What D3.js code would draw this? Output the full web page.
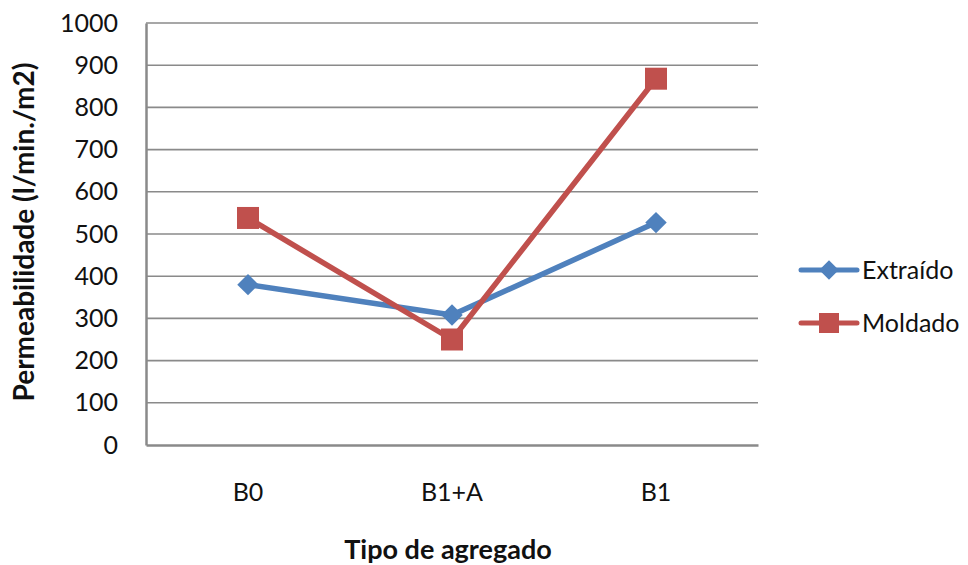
<!DOCTYPE html>
<html><head><meta charset="utf-8">
<script src="https://cdn.jsdelivr.net/npm/d3@7"></script>
<style>body{margin:0;background:#fff}svg{display:block}</style>
</head><body>
<script>
const categories = ["B0", "B1+A", "B1"];
const extraido = [380, 308, 527];
const moldado = [538, 250, 868];
const yTicks = [0,100,200,300,400,500,600,700,800,900,1000];
const seriesNames = ["Extraído", "Moldado"];

const W = 968, H = 565;
const m = {left:146, right:210, top:23, bottom:120};
const font = "Lato, 'Open Sans', sans-serif";
const svg = d3.select("body").append("svg").attr("width", W).attr("height", H);

const x = d3.scaleBand().domain(categories).range([m.left, W - m.right]);
const y = d3.scaleLinear().domain([0, 1000]).range([H - m.bottom, m.top]);

svg.append("g").selectAll("line").data(yTicks.filter(d => d > 0)).join("line")
  .attr("x1", m.left).attr("x2", W - m.right)
  .attr("y1", d => y(d)).attr("y2", d => y(d))
  .attr("stroke", "#8a8a8a").attr("stroke-width", 1.6);

const ya = svg.append("g").attr("transform", `translate(${m.left},0)`)
  .call(d3.axisLeft(y).tickValues(yTicks).tickFormat(d3.format("d")).tickSize(0).tickPadding(28));
ya.select(".domain").attr("stroke", "#8a8a8a").attr("stroke-width", 2.5);
ya.selectAll("text").attr("font-family", font).attr("font-size", 25).attr("fill", "#111");

const xa = svg.append("g").attr("transform", `translate(0,${H - m.bottom})`)
  .call(d3.axisBottom(x).tickSize(0).tickPadding(38));
xa.select(".domain").attr("stroke", "#8a8a8a").attr("stroke-width", 2.5);
xa.selectAll("text").attr("font-family", font).attr("font-size", 25).attr("fill", "#111");

svg.append("text").attr("transform", `translate(24,232) rotate(-90)`)
  .attr("text-anchor", "middle").attr("dy", "0.35em").attr("font-family", font).attr("font-weight", "bold")
  .attr("font-size", 28).attr("fill", "#111").text("Permeabilidade (l/min./m2)");
svg.append("text").attr("x", (m.left + W - m.right)/2 - 4).attr("y", 550).attr("dy", "0.35em")
  .attr("text-anchor", "middle").attr("font-family", font).attr("font-weight", "bold")
  .attr("font-size", 27).attr("fill", "#111").text("Tipo de agregado");

const colors = ["#4F81BD", "#C0504D"];
const data = [extraido, moldado];
const line = d3.line().x((d, i) => x(categories[i]) + x.bandwidth()/2).y(d => y(d));
const markerPath = (s, big) => s === 0
  ? d3.symbol(d3.symbolSquare, big ? 230 : 190)()
  : d3.symbol(d3.symbolSquare, big ? 484 : 400)();
const rot = s => s === 0 ? " rotate(45)" : "";

data.forEach((vals, s) => {
  const g = svg.append("g");
  g.append("path").datum(vals).attr("d", line).attr("fill", "none")
    .attr("stroke", colors[s]).attr("stroke-width", 5.5).attr("stroke-linejoin", "round");
  g.selectAll("path.m").data(vals).join("path").attr("class", "m")
    .attr("transform", (d, i) => `translate(${x(categories[i]) + x.bandwidth()/2},${y(d)})${rot(s)}`)
    .attr("d", markerPath(s, true)).attr("fill", colors[s]);
});

const lg = svg.append("g");
seriesNames.forEach((n, s) => {
  const ly = 270 + s * 53;
  lg.append("line").attr("x1", 801).attr("x2", 857).attr("y1", ly).attr("y2", ly)
    .attr("stroke", colors[s]).attr("stroke-width", 5).attr("stroke-linecap", "round");
  lg.append("path").attr("transform", `translate(829,${ly})${rot(s)}`)
    .attr("d", markerPath(s, false)).attr("fill", colors[s]);
  lg.append("text").attr("x", 862).attr("y", ly).attr("dy", "0.35em")
    .attr("font-family", font).attr("font-size", 25).attr("fill", "#111").text(n);
});
</script>
</body></html>
